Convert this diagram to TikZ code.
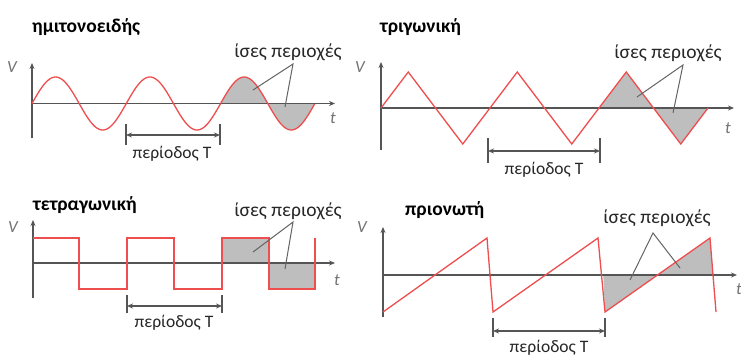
\documentclass[tikz,border=0pt]{standalone}
\usepackage{fontspec}
\setmainfont{Carlito}
\usetikzlibrary{arrows.meta}
\definecolor{wave}{RGB}{238,78,78}
\definecolor{axisc}{RGB}{85,85,85}
\definecolor{shade}{RGB}{190,190,190}
\definecolor{leadc}{RGB}{100,100,100}
\tikzset{
  wavel/.style={draw=wave,line width=1.3pt,line join=miter},
  axisl/.style={draw=axisc,line width=1.3pt,-{Stealth[length=6pt,width=5pt]}},
  shadef/.style={fill=shade},
  tickl/.style={draw=axisc,line width=1.1pt},
  periodl/.style={draw=axisc,line width=1.1pt,{Stealth[length=6pt,width=5pt]}-{Stealth[length=6pt,width=5pt]}},
  leadl/.style={draw=leadc,line width=1pt},
  titlet/.style={font=\fontsize{19.5}{22}\selectfont\bfseries,anchor=west,inner sep=0pt},
  labt/.style={font=\fontsize{19.5}{22}\selectfont,inner sep=0pt,text=black!85},
  pert/.style={font=\fontsize{17.5}{20}\selectfont,inner sep=0pt,text=black!85},
  axlab/.style={font=\fontsize{17}{20}\selectfont\itshape,text=black!55,inner sep=0pt}
}
\begin{document}
\begin{tikzpicture}[x=1pt,y=-1pt]
\useasboundingbox (0,0) rectangle (741,356);
\fill[white] (0,0) rectangle (741,356);
% ===== Panel 1: sine =====
\node[titlet] (t1) at (32,27) {ημιτονοειδής};
\fill[shadef] plot[domain=2:3,samples=60] ({32+94.3*\x},{103.5-26.5*sin(360*\x)}) -- cycle;
\draw[axisl] (32,138) -- (32,63);
\draw[axisl] (32,103.5) -- (335,103.5);
\node[axlab] (v1) at (12,67) {V};
\node[axlab] (x1) at (333,118) {t};
\draw[wavel] plot[domain=0:3,samples=200] ({32+94.3*\x},{103.5-26.5*sin(360*\x)});
\coordinate (p1a) at (126,135); \coordinate (p1b) at (220,135);
\draw[tickl] (126,124) -- (126,145);
\draw[tickl] (220,124) -- (220,145);
\draw[periodl] (p1a) -- (p1b);
\node[pert] (pt1) at (172,154) {περίοδος Τ};
\node[labt] (e1) at (288,52) {ίσες περιοχές};
\coordinate (l1) at (293,64);
\coordinate (l1a) at (253,90); \coordinate (l1b) at (285,107);
\draw[leadl] (l1a) -- (l1) -- (l1b);
% ===== Panel 2: triangle =====
\node[titlet] (t2) at (380,27) {τριγωνική};
\fill[shadef] (599,108) -- (626.25,72) -- (680.75,144) -- (708,108) -- cycle;
\draw[axisl] (381,150) -- (381,62);
\draw[axisl] (381,108) -- (734,108);
\node[axlab] (v2) at (360,67) {V};
\node[axlab] (x2) at (728,128) {t};
\draw[wavel] (381,108) -- (408.25,72) -- (462.75,144) -- (517.25,72) -- (571.75,144) -- (626.25,72) -- (680.75,144) -- (708,108);
\coordinate (p2a) at (488,151); \coordinate (p2b) at (600,151);
\draw[tickl] (488,138) -- (488,163);
\draw[tickl] (600,138) -- (600,163);
\draw[periodl] (p2a) -- (p2b);
\node[pert] (pt2) at (544,170) {περίοδος Τ};
\node[labt] (e2) at (668,53) {ίσες περιοχές};
\coordinate (l2) at (683,65);
\coordinate (l2a) at (637,97); \coordinate (l2b) at (673,113);
\draw[leadl] (l2a) -- (l2) -- (l2b);
% ===== Panel 3: square =====
\node[titlet] (t3) at (33,205) {τετραγωνική};
\fill[shadef] (222,238) rectangle (269,263);
\fill[shadef] (269,263) rectangle (315,289);
\draw[axisl] (33,298) -- (33,220);
\draw[axisl] (33,263) -- (335,263);
\node[axlab] (v3) at (13,227) {V};
\node[axlab] (x3) at (337,280) {t};
\draw[wavel] (33,238) -- (79,238) -- (79,289) -- (127,289) -- (127,238) -- (174,238) -- (174,289) -- (222,289) -- (222,238) -- (269,238) -- (269,289) -- (315,289) -- (315,238);
\coordinate (p3a) at (127,306); \coordinate (p3b) at (222,306);
\draw[tickl] (127,295) -- (127,313);
\draw[tickl] (222,295) -- (222,313);
\draw[periodl] (p3a) -- (p3b);
\node[pert] (pt3) at (174,323) {περίοδος Τ};
\node[labt] (e3) at (288,211) {ίσες περιοχές};
\coordinate (l3) at (293,222);
\coordinate (l3a) at (253,252); \coordinate (l3b) at (285,269);
\draw[leadl] (l3a) -- (l3) -- (l3b);
% ===== Panel 4: sawtooth =====
\node[titlet] (t4) at (405,210) {πριονωτή};
\fill[shadef] (603.3,275) -- (605,312) -- (710,238) -- (712.8,275) -- cycle;
\draw[axisl] (383,317) -- (383,227);
\draw[axisl] (383,275) -- (737,275);
\node[axlab] (v4) at (362,227) {V};
\node[axlab] (x4) at (739,289) {t};
\draw[wavel] (383,312) -- (487,238) -- (493,312) -- (598,238) -- (605,312) -- (710,238) -- (716,312);
\coordinate (p4a) at (493,331); \coordinate (p4b) at (605,331);
\draw[tickl] (493,318) -- (493,337);
\draw[tickl] (605,318) -- (605,337);
\draw[periodl] (p4a) -- (p4b);
\node[pert] (pt4) at (549,348) {περίοδος Τ};
\node[labt] (e4) at (657,218) {ίσες περιοχές};
\coordinate (l4) at (653,233);
\coordinate (l4a) at (630,280); \coordinate (l4b) at (680,268);
\draw[leadl] (l4a) -- (l4) -- (l4b);
\end{tikzpicture}
\end{document}
